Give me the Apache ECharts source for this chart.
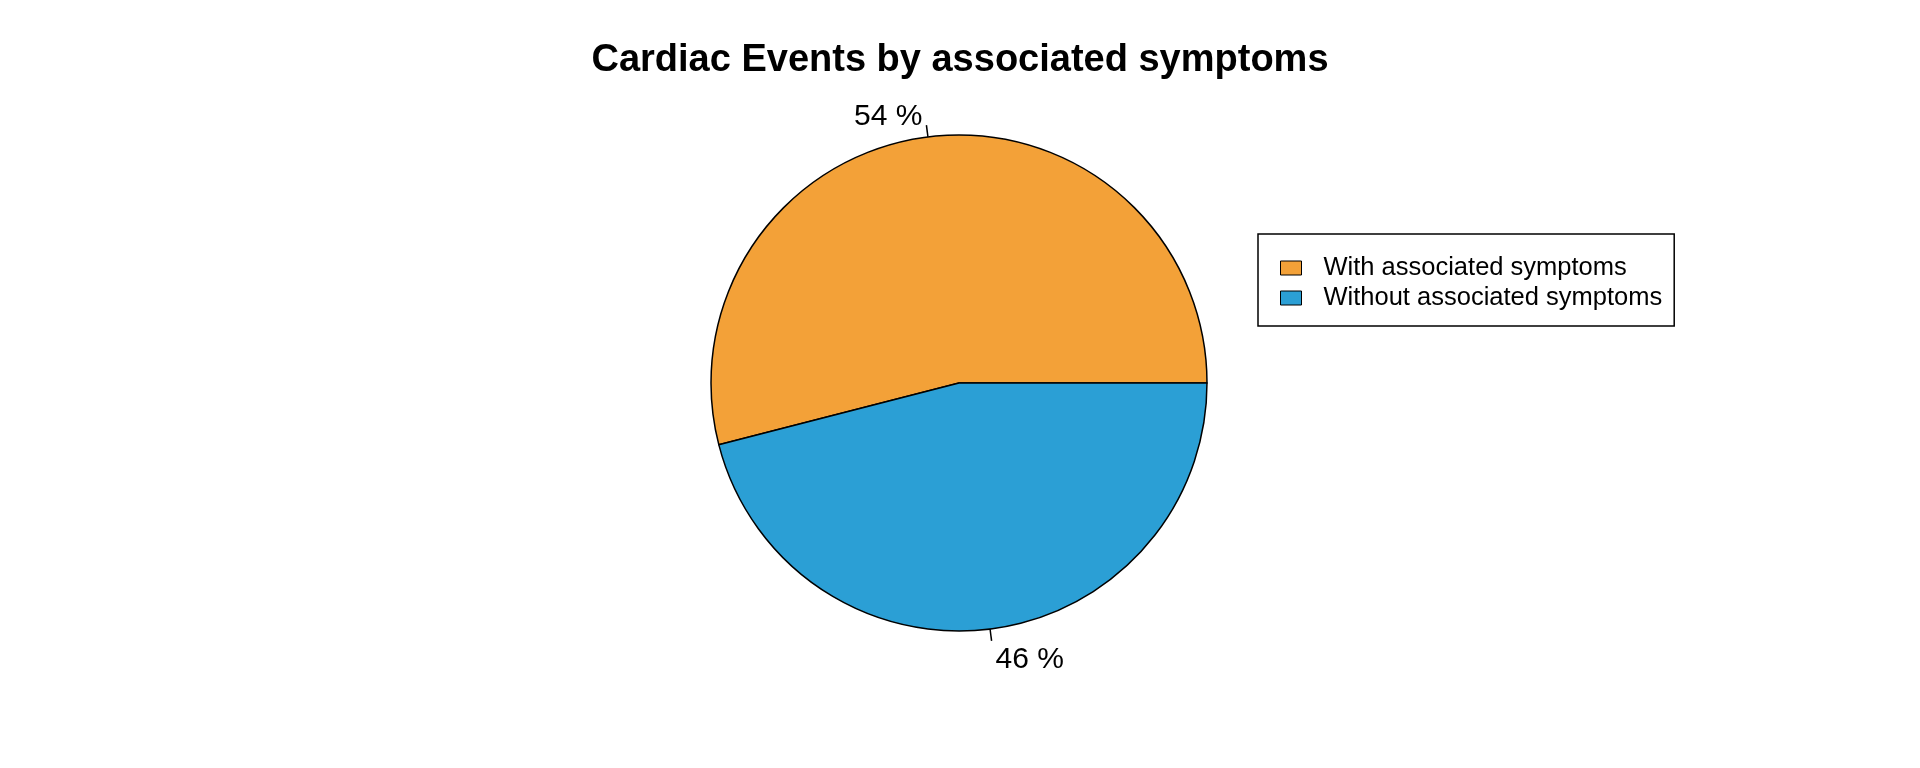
<!DOCTYPE html>
<html>
<head>
<meta charset="utf-8">
<script src="https://cdn.jsdelivr.net/npm/echarts@6/dist/echarts.min.js"></script>
<style>
html, body { margin: 0; padding: 0; background: #ffffff; }
#chart { width: 1920px; height: 768px; }
</style>
</head>
<body>
<div id="chart"></div>
<script>
const titleText = 'Cardiac Events by associated symptoms';
const categories = ['With associated symptoms', 'Without associated symptoms'];
const values = [54, 46];
const colors = ['#F3A138', '#2B9FD5'];

const FONT = '"Liberation Sans", Arial, sans-serif';
const chart = echarts.init(document.getElementById('chart'), null, { renderer: 'canvas' });

const data = categories.map((name, i) => ({
  name: name,
  value: values[i],
  itemStyle: { color: colors[i] }
}));

chart.setOption({
  animation: false,
  backgroundColor: '#ffffff',
  title: {
    text: titleText,
    left: 'center',
    top: 37,
    textStyle: { fontFamily: FONT, fontSize: 38, fontWeight: 'bold', color: '#000000' }
  },
  legend: {
    orient: 'vertical',
    left: 1258,
    top: 234,
    padding: [21, 12, 15, 22],
    itemGap: 4,
    itemWidth: 21,
    itemHeight: 14,
    icon: 'rect',
    borderColor: '#000000',
    borderWidth: 1.5,
    borderRadius: 0,
    data: categories,
    itemStyle: { borderColor: '#000000', borderWidth: 1 },
    textStyle: { fontFamily: FONT, fontSize: 25.5, color: '#000000', padding: [0, 0, 0, 17] }
  },
  series: [{
    type: 'pie',
    center: [959, 383],
    radius: [0, 248],
    startAngle: 0,
    clockwise: false,
    avoidLabelOverlap: false,
    itemStyle: { borderColor: '#000000', borderWidth: 1.5 },
    label: {
      show: true,
      position: 'outside',
      fontFamily: FONT,
      fontSize: 30,
      color: '#000000',
      distanceToLabelLine: 4,
      formatter: p => {
        const t = '{t|' + Math.round(p.percent) + ' %}';
        return p.dataIndex === 0 ? t + '\n{a|}' : '{b|}\n' + t;
      },
      rich: {
        t: { fontFamily: FONT, fontSize: 30, color: '#000000', lineHeight: 32 },
        a: { fontSize: 10, lineHeight: 16, height: 16 },
        b: { fontSize: 10, lineHeight: 38, height: 38 }
      }
    },
    labelLine: {
      show: true,
      length: 12,
      length2: 0,
      smooth: false,
      lineStyle: { color: '#000000', width: 1.5 }
    },
    emphasis: { disabled: true },
    data: data
  }]
});
</script>
</body>
</html>
